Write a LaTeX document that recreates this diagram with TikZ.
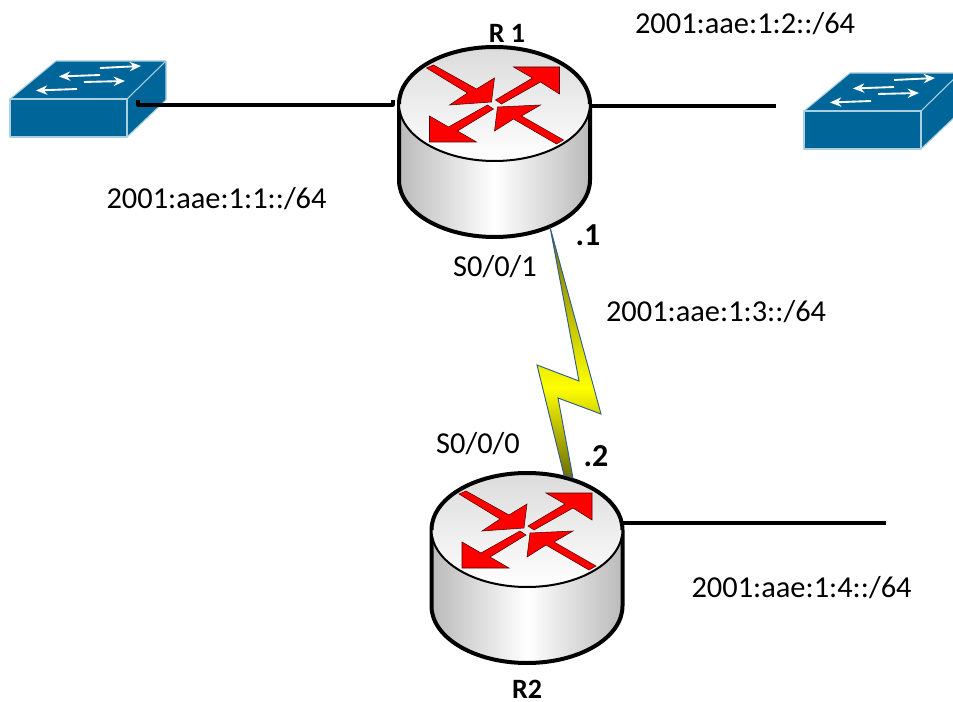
\documentclass[tikz,border=0pt]{standalone}
\usepackage{fontspec}
\setmainfont{Carlito}
\usetikzlibrary{arrows.meta}
\definecolor{boltdark}{rgb}{0.42,0.42,0.0}
\definecolor{swblue}{HTML}{006699}
\definecolor{swedge}{HTML}{A9D1E0}
\definecolor{boltline}{HTML}{2F5D8C}
\pgfdeclareverticalshading{boltshade}{100bp}{color(0bp)=(boltdark); color(25bp)=(boltdark); color(43bp)=(yellow); color(75bp)=(boltdark); color(100bp)=(boltdark)}
\tikzset{
  x=0.75pt,y=-0.75pt,
  netlabel/.style={font=\fontsize{22.8pt}{26pt}\selectfont,inner sep=0pt},
  portlabel/.style={font=\fontsize{22.8pt}{26pt}\selectfont,inner sep=0pt},
  hostlabel/.style={font=\bfseries\fontsize{21pt}{24pt}\selectfont,inner sep=0pt},
  iplabel/.style={font=\bfseries\fontsize{24pt}{28pt}\selectfont,inner sep=0pt},
  wire/.style={draw=black,line width=2.4pt},
  redarrow/.style={fill=red,draw=black!70!red,line width=0.4pt,line join=miter},
  swarrow/.style={draw=white,line width=1.4pt,-{Stealth[length=8.5pt,width=7pt]}},
  swface/.style={fill=swblue,draw=swedge,line width=0.8pt,line join=round},
  pics/router/.style={code={
    \coordinate (-left) at (-95.5,0);
    \coordinate (-right) at (95.5,0);
    \coordinate (-port) at (-101.5,-4);
    \shade[left color=black!27,right color=black!27,middle color=white]
      (-95.5,0) -- (-95.5,76) arc[start angle=180,delta angle=-180,x radius=95.5,y radius=57]
      -- (95.5,0) arc[start angle=0,delta angle=-180,x radius=95.5,y radius=57] -- cycle;
    \draw[line width=3pt] (-95.5,0) -- (-95.5,76) arc[start angle=180,delta angle=-180,x radius=95.5,y radius=57] -- (95.5,0);
    \shade[top color=black!14,bottom color=white] (0,0) ellipse[x radius=95.5,y radius=57];
    \draw[line width=3pt] (-95.5,0) arc[start angle=180,delta angle=180,x radius=95.5,y radius=57];
    \draw[line width=1.5pt] (-95.5,0) arc[start angle=180,delta angle=-180,x radius=95.5,y radius=57];
    \path[redarrow] (-61,-39) -- (-18,-15) -- (0,-26) -- (-3,-2) -- (-45,1) -- (-27,-11) -- (-68,-36) -- cycle;
    \path[redarrow] (1,-4) -- (7,0) -- (46,-22) -- (65,-10) -- (65,-37) -- (19,-37) -- (38,-26) -- cycle;
    \path[redarrow] (-7,1) -- (-1,5) -- (-37,27) -- (-18,38) -- (-65,38) -- (-65,12) -- (-46,23) -- cycle;
    \path[redarrow] (69,36) -- (62,40) -- (19,15) -- (0,27) -- (3,3) -- (46,1) -- (27,12) -- cycle;
  }},
  pics/switch/.style={code={
    \coordinate (-port) at (128,1);
    \path[swface] (0,0) -- (46,-38) -- (156,-38) -- (156,1) -- (117,38) -- (117,0) -- cycle;
    \path[swface] (0,0) -- (117,0) -- (117,38) -- (0,38) -- cycle;
    \draw[swedge,line width=0.8pt] (117,0) -- (156,-38);
    \draw[swarrow] (90,-31) -- (131,-33);
    \draw[swarrow] (90,-24) -- (49,-22.5);
    \draw[swarrow] (74,-17) -- (115,-18);
    \draw[swarrow] (67,-10) -- (26,-8.5);
  }}
}
\begin{document}
\begin{tikzpicture}
\useasboundingbox (0,0) rectangle (953,702);
\clip (0,0) rectangle (953,702);
\pic (sw1) at (10,99) {switch};
\pic (sw2) at (804,111) {switch};
\pic (r1) at (494.5,104) {router};
\pic (r2) at (527,530) {router};
\coordinate (lan2) at (776,106);
\coordinate (lan4) at (886,523);
\coordinate (sw1a) at (138,105);
\coordinate (r1a) at (393,105);
\draw[wire,line join=round] (sw1-port) -- (sw1a) -- (r1a) -- (r1-port);
\draw[wire] (r1-right |- lan2) -- (lan2);
\draw[wire] (r2-right |- lan4) -- (lan4);
\path[shading=boltshade,draw=boltline,line width=0.7pt,line join=miter]
  (550,227) -- (601,414) -- (558,398) -- (573,478) -- (564,475) -- (537,365) -- (579,381) -- cycle;
\node[hostlabel] (r1name) at (507,33) {R 1};
\node[hostlabel] (r2name) at (527,689) {R2};
\node[iplabel] (ip1) at (588,235) {.1};
\node[iplabel] (ip2) at (596,456) {.2};
\node[portlabel] (s1) at (495,267) {S0/0/1};
\node[portlabel] (s0) at (478,444) {S0/0/0};
\node[netlabel] (n1) at (216.5,199) {2001:aae:1:1::/64};
\node[netlabel] (n2) at (745,24) {2001:aae:1:2::/64};
\node[netlabel] (n3) at (716,312) {2001:aae:1:3::/64};
\node[netlabel] (n4) at (801.5,588) {2001:aae:1:4::/64};
\end{tikzpicture}
\end{document}
